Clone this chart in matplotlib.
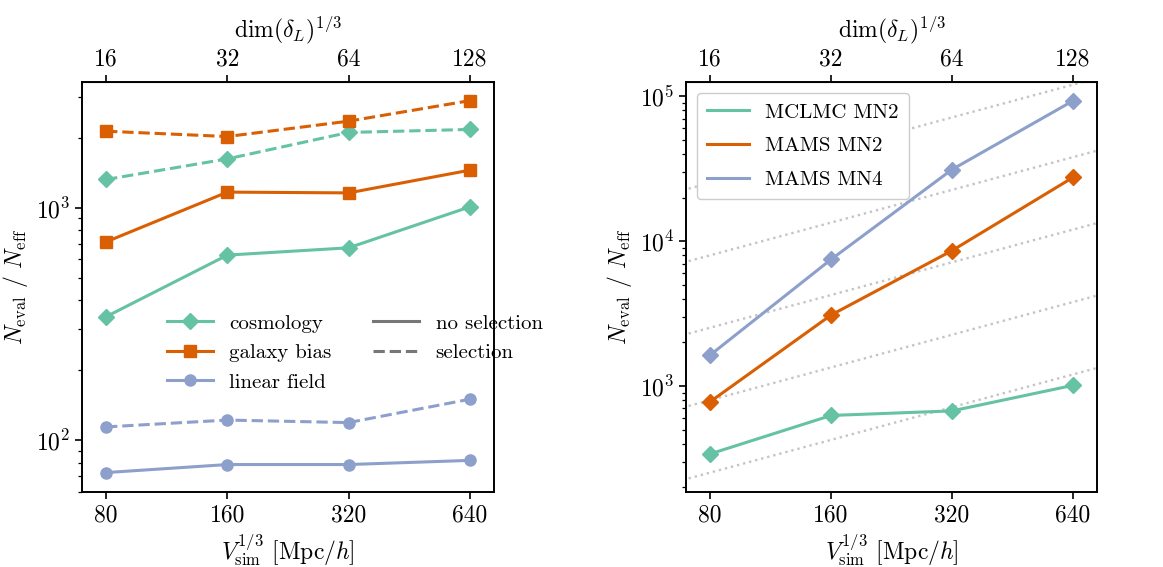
import numpy as np
import matplotlib
matplotlib.use("Agg")
import matplotlib.pyplot as plt
from matplotlib.lines import Line2D
from matplotlib.ticker import NullLocator, FixedLocator, FixedFormatter

plt.rcParams['font.family'] = 'serif'
plt.rcParams['font.serif'] = ['cmr10', 'DejaVu Serif']
plt.rcParams['mathtext.fontset'] = 'cm'
plt.rcParams['axes.formatter.use_mathtext'] = True
plt.rcParams['font.size'] = 17

# box size (Mpc/h) and matching field dimension
box = [80, 160, 320, 640]
dim_ticks = [16, 32, 64, 128]

# left panel: N_eval / N_eff
cosmo_nosel = [340, 626, 673, 1010]
cosmo_sel = [1325, 1625, 2112, 2176]
bias_nosel = [714, 1169, 1160, 1453]
bias_sel = [2138, 2028, 2362, 2895]
lin_nosel = [72.5, 78.5, 78.5, 81.8]
lin_sel = [114, 122, 119, 150]

# right panel
mclmc_mn2 = cosmo_nosel
mams_mn2 = [779, 3090, 8600, 27500]
mams_mn4 = [1636, 7480, 31200, 92900]

# reference scaling lines: N ~ dim^(1/4) ~ V^(3/4), spaced by half decades
ref_slope = 0.75
ref_log_offsets = [0.975, 1.475, 1.975, 2.475, 2.975]

green = '#66c2a5'
orange = '#d95f02'
blue = '#8da0cb'

fig = plt.figure(figsize=(11.63, 5.67), dpi=100)
ax1 = fig.add_axes([0.0705, 0.132, 0.3543, 0.723])
ax2 = fig.add_axes([0.590, 0.132, 0.3533, 0.723])

lw = 2.2
ms = 8

ax1.plot(box, cosmo_nosel, '-', marker='D', color=green, lw=lw, ms=ms)
ax1.plot(box, cosmo_sel, '--', marker='D', color=green, lw=lw, ms=ms)
ax1.plot(box, bias_nosel, '-', marker='s', color=orange, lw=lw, ms=ms)
ax1.plot(box, bias_sel, '--', marker='s', color=orange, lw=lw, ms=ms)
ax1.plot(box, lin_nosel, '-', marker='o', color=blue, lw=lw, ms=ms)
ax1.plot(box, lin_sel, '--', marker='o', color=blue, lw=lw, ms=ms)

xref = np.array([50.0, 1000.0])
for off in ref_log_offsets:
    ax2.plot(xref, 10**off * xref**ref_slope, ':', color='#c4c4c4', lw=1.7, zorder=1)
ax2.plot(box, mclmc_mn2, '-', marker='D', color=green, lw=lw, ms=ms)
ax2.plot(box, mams_mn2, '-', marker='D', color=orange, lw=lw, ms=ms)
ax2.plot(box, mams_mn4, '-', marker='D', color=blue, lw=lw, ms=ms)

ax1.set_ylim(59.7, 3475)
ax2.set_ylim(185, 1.25e5)

for ax in (ax1, ax2):
    ax.set_xscale('log')
    ax.set_yscale('log')
    ax.set_xlim(69.7, 735)
    ax.xaxis.set_major_locator(FixedLocator(box))
    ax.xaxis.set_major_formatter(FixedFormatter([str(b) for b in box]))
    ax.xaxis.set_minor_locator(NullLocator())
    ax.set_xlabel(r'$V_{\rm sim}^{1/3}$ [Mpc/$h$]')
    ax.set_ylabel(r'$N_{\rm eval}$ / $N_{\rm eff}$')
    ax.tick_params(which='major', length=5, width=1.2)
    ax.tick_params(which='minor', length=3, width=0.9)
    for sp in ax.spines.values():
        sp.set_linewidth(1.4)
    top = ax.secondary_xaxis('top', functions=(lambda x: x / 5, lambda x: x * 5))
    top.set_xscale('log')
    top.xaxis.set_major_locator(FixedLocator(dim_ticks))
    top.xaxis.set_major_formatter(FixedFormatter([str(d) for d in dim_ticks]))
    top.xaxis.set_minor_locator(NullLocator())
    top.tick_params(which='major', length=5, width=1.2)
    top.set_xlabel(r'dim$(\delta_L)^{1/3}$', labelpad=8)

# legend for left panel: probes in first column, selection styles in second
handles = [
    Line2D([], [], color=green, marker='D', lw=lw, ms=ms),
    Line2D([], [], color=orange, marker='s', lw=lw, ms=ms),
    Line2D([], [], color=blue, marker='o', lw=lw, ms=ms),
    Line2D([], [], color='#777777', ls='-', lw=lw),
    Line2D([], [], color='#777777', ls='--', lw=lw),
    Line2D([], [], alpha=0),
]
labels = ['cosmology', 'galaxy bias', 'linear field', 'no selection', 'selection', '']
ax1.legend(handles, labels, ncol=2, frameon=False, fontsize=15,
           loc='upper left', bbox_to_anchor=(0.16, 0.48),
           handlelength=2.2, handletextpad=0.8, columnspacing=2.0,
           labelspacing=0.52)

# legend for right panel: plain lines, no markers
handles2 = [Line2D([], [], color=c, lw=lw) for c in (green, orange, blue)]
labels2 = ['MCLMC MN2', 'MAMS MN2', 'MAMS MN4']
ax2.legend(handles2, labels2, loc='upper left', fontsize=15, handlelength=2.0,
           handletextpad=0.8, framealpha=1, edgecolor='#cccccc',
           labelspacing=0.72, borderpad=0.5)

fig.savefig('out.png', dpi=100)
